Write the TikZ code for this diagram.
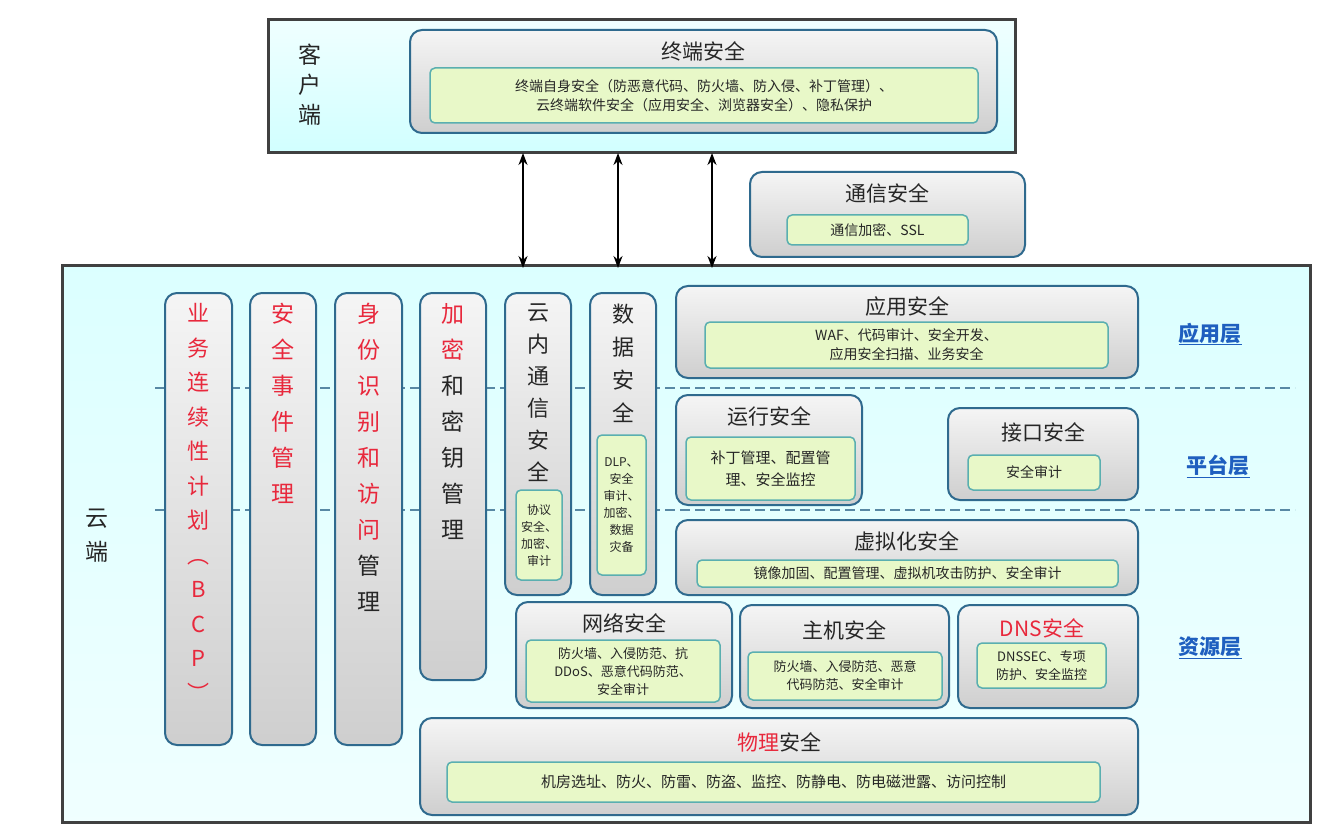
\documentclass[tikz,border=0pt]{standalone}
\usepackage{fontspec}
\setmainfont{Noto Sans CJK SC}
\newfontfamily\cjk{Noto Sans CJK SC}
\usetikzlibrary{arrows.meta}
\definecolor{bord}{HTML}{2F6A8E}
\definecolor{gfill}{HTML}{E8F8C8}
\definecolor{gbord}{HTML}{5AAFB0}
\definecolor{lay}{HTML}{1F5FBF}
\definecolor{rtxt}{HTML}{E8283C}
\tikzset{
 gbox/.style={draw=bord,line width=2pt,rounded corners=12pt,top color=gray!8,bottom color=gray!38,inner sep=0pt},
 grn/.style={draw=gbord,line width=1.5pt,rounded corners=5pt,fill=gfill,inner sep=0pt},
 ttl/.style={font=\fontsize{21}{24}\selectfont,text=black!85},
 sm/.style={font=\fontsize{14}{19}\selectfont,align=center,text=black!85},
 vt/.style={font=\fontsize{23}{36}\selectfont,align=center,anchor=north,text=black!85},
 layer/.style={font=\fontsize{21}{24}\selectfont\bfseries\itshape,text=lay},
 arr/.style={{Stealth[length=12pt,width=9pt]}-{Stealth[length=12pt,width=9pt]},line width=2pt},
}
\newcommand\gb[5]{\node[gbox,minimum width={(#3-#1)*1pt},minimum height={(#4-#2)*1pt}] (#5) at ({(#1+#3)/2},{(#2+#4)/2}) {};}
\newcommand\gr[5]{\node[grn,minimum width={(#3-#1)*1pt},minimum height={(#4-#2)*1pt}] (#5) at ({(#1+#3)/2},{(#2+#4)/2}) {};}
\begin{document}
\begin{tikzpicture}[x=1pt,y=-1pt]
\useasboundingbox (0,0) rectangle (1338,834);
\fill[white] (0,0) rectangle (1338,834);
% client
\node[draw=black!75,line width=3pt,top color=cyan!6,bottom color=cyan!18,minimum width=747pt,minimum height=133pt,inner sep=0pt] (client) at (641.5,86.5) {};
\node[vt,font=\fontsize{23}{30}\selectfont] (kh) at (310,40) {客\\户\\端};
\gb{410}{30}{997}{133}{zd}
\node[ttl] (zdt) at (703,51) {终端安全};
\gr{430}{68}{978}{123}{zdg}
\node[sm] (zdgt) at (zdg) {终端自身安全（防恶意代码、防火墙、防入侵、补丁管理）、\\云终端软件安全（应用安全、浏览器安全）、隐私保护};
% comm
\gb{750}{172}{1025}{257}{tx}
\node[ttl] (txt) at (887,193) {通信安全};
\gr{787}{215}{968}{245}{txg}
\node[sm] (txgt) at (txg) {通信加密、SSL};
% cloud
\node[draw=black!75,line width=3pt,top color=cyan!14,bottom color=cyan!6,minimum width=1248pt,minimum height=556pt,inner sep=0pt] (cloud) at (686,544) {};
\coordinate (a1) at (523,153); \coordinate (b1) at (523,268);
\coordinate (a2) at (618,153); \coordinate (b2) at (618,268);
\coordinate (a3) at (712,153); \coordinate (b3) at (712,268);
\draw[arr] (a1) -- (b1); \draw[arr] (a2) -- (b2); \draw[arr] (a3) -- (b3);
\node[vt,font=\fontsize{23}{34}\selectfont] (yd) at (97,505) {云\\端};
\coordinate (d1a) at (155,388); \coordinate (d1b) at (1295,388);
\coordinate (d2a) at (155,510); \coordinate (d2b) at (1295,510);
\draw[dashed,line width=1.5pt,bord!80,dash pattern=on 10pt off 5pt] (d1a) -- (d1b);
\draw[dashed,line width=1.5pt,bord!80,dash pattern=on 10pt off 5pt] (d2a) -- (d2b);
\node[layer] (l1) at (1210,334) {\underline{应用层}};
\node[layer] (l2) at (1218,466) {\underline{平台层}};
\node[layer] (l3) at (1210,648) {\underline{资源层}};
% columns
\gb{165}{293}{232}{745}{c1}
\node[vt,text=rtxt,font=\fontsize{22}{34.5}\selectfont] (c1t) at (198.5,300) {业\\务\\连\\续\\性\\计\\划\\︵\\B\\C\\P\\︶};
\gb{250}{293}{316}{745}{c2}
\node[vt,text=rtxt] (c2t) at (283,300) {安\\全\\事\\件\\管\\理};
\gb{335}{293}{402}{745}{c3}
\node[vt] (c3t) at (368.5,300) {\textcolor{rtxt}{身}\\\textcolor{rtxt}{份}\\\textcolor{rtxt}{识}\\\textcolor{rtxt}{别}\\\textcolor{rtxt}{和}\\\textcolor{rtxt}{访}\\\textcolor{rtxt}{问}\\管\\理};
\gb{420}{293}{486}{680}{c4}
\node[vt] (c4t) at (453,300) {\textcolor{rtxt}{加}\\\textcolor{rtxt}{密}\\和\\密\\钥\\管\\理};
\gb{505}{293}{571}{595}{c5}
\node[vt,font=\fontsize{22}{32}\selectfont] (c5t) at (538,300) {云\\内\\通\\信\\安\\全};
\gr{516}{490}{562}{580}{c5g}
\node[sm,font=\fontsize{12}{17}\selectfont] (c5gt) at (c5g) {协议\\安全、\\加密、\\审计};
\gb{590}{293}{656}{595}{c6}
\node[vt,font=\fontsize{22}{33}\selectfont] (c6t) at (623,300) {数\\据\\安\\全};
\gr{597}{435}{646}{575}{c6g}
\node[sm,font=\fontsize{12}{17}\selectfont] (c6gt) at (c6g) {DLP、\\安全\\审计、\\加密、\\数据\\灾备};
% right boxes
\gb{676}{286}{1138}{378}{yy}
\node[ttl] (yyt) at (907,306) {应用安全};
\gr{705}{322}{1108}{368}{yyg}
\node[sm] (yygt) at (yyg) {WAF、代码审计、安全开发、\\应用安全扫描、业务安全};
\gb{676}{395}{862}{505}{yx}
\node[ttl] (yxt) at (769,416) {运行安全};
\gr{686}{437}{855}{500}{yxg}
\node[sm,font=\fontsize{15}{22}\selectfont] (yxgt) at (yxg) {补丁管理、配置管\\理、安全监控};
\gb{948}{408}{1138}{500}{jk}
\node[ttl] (jkt) at (1043,432) {接口安全};
\gr{968}{455}{1100}{490}{jkg}
\node[sm] (jkgt) at (jkg) {安全审计};
\gb{676}{520}{1138}{595}{xn}
\node[ttl] (xnt) at (907,541) {虚拟化安全};
\gr{697}{560}{1118}{587}{xng}
\node[sm] (xngt) at (xng) {镜像加固、配置管理、虚拟机攻击防护、安全审计};
\gb{516}{602}{732}{708}{wl}
\node[ttl] (wlt) at (624,623) {网络安全};
\gr{526}{640}{720}{702}{wlg}
\node[sm,font=\fontsize{13}{18}\selectfont] (wlgt) at (wlg) {防火墙、入侵防范、抗\\DDoS、恶意代码防范、\\安全审计};
\gb{740}{605}{949}{708}{zj}
\node[ttl] (zjt) at (844,630) {主机安全};
\gr{748}{652}{942}{700}{zjg}
\node[sm,font=\fontsize{13}{18}\selectfont] (zjgt) at (zjg) {防火墙、入侵防范、恶意\\代码防范、安全审计};
\gb{958}{605}{1138}{708}{dns}
\node[ttl,text=rtxt] (dnst) at (1042,628) {DNS安全};
\gr{977}{643}{1106}{688}{dnsg}
\node[sm,font=\fontsize{13}{18}\selectfont] (dnsgt) at (dnsg) {DNSSEC、专项\\防护、安全监控};
\gb{420}{718}{1138}{815}{wl2}
\node[ttl] (wl2t) at (779,742) {\textcolor{rtxt}{物理}安全};
\gr{447}{762}{1100}{802}{wl2g}
\node[sm,font=\fontsize{15}{20}\selectfont] (wl2gt) at (wl2g) {机房选址、防火、防雷、防盗、监控、防静电、防电磁泄露、访问控制};
\end{tikzpicture}
\end{document}
